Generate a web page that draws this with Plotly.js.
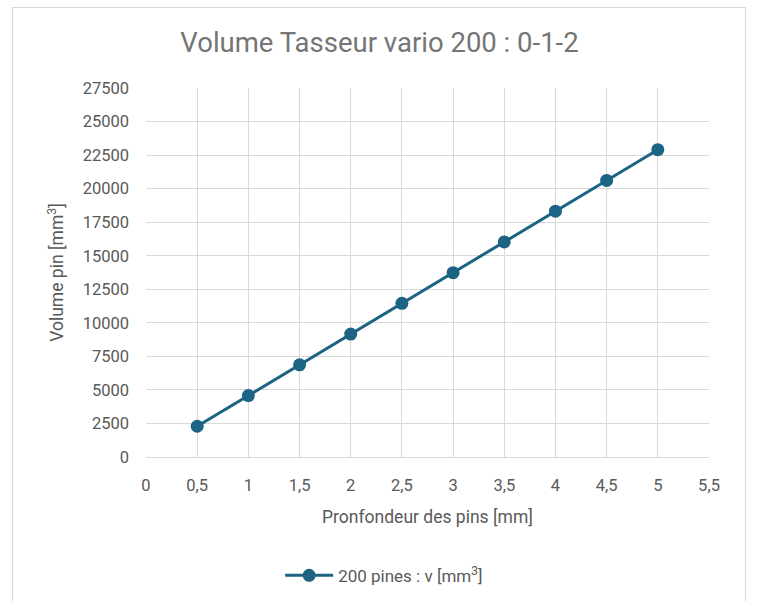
<!DOCTYPE html>
<html><head><meta charset="utf-8">
<script src="https://cdn.plot.ly/plotly-3.0.1.min.js"></script>
<style>
html,body{margin:0;padding:0;background:#fff;}
#wrap{position:relative;width:759px;height:601px;}
#chart{position:absolute;left:0;top:0;width:759px;height:601px;}
#frame{position:absolute;left:12px;top:7px;width:732px;height:600px;border:1px solid #d9d9d9;pointer-events:none;}
</style></head>
<body>
<div id="wrap"><div id="chart"></div><div id="frame"></div></div>
<script>
const depth = [0.5, 1, 1.5, 2, 2.5, 3, 3.5, 4, 4.5, 5];
const volume = [2290, 4580, 6870, 9160, 11450, 13740, 16030, 18320, 20610, 22900];
const seriesName = '200 pines : v [mm<sup>3</sup>]';
const titleText = 'Volume Tasseur vario 200 : 0-1-2';
const xTitle = 'Pronfondeur des pins [mm]';
const yTitle = 'Volume pin [mm<sup>3</sup>]';

const lineColor = '#1c6384';
const textColor = '#595959';
const gridColor = '#d9d9d9';

Plotly.newPlot('chart', [{
  x: depth, y: volume, name: seriesName, type: 'scatter', mode: 'lines+markers',
  line: {color: lineColor, width: 3},
  marker: {color: lineColor, size: 13}
}], {
  width: 759, height: 601,
  margin: {l: 146, r: 50, t: 88, b: 144},
  paper_bgcolor: '#fff', plot_bgcolor: '#fff',
  separators: ',.',
  font: {family: 'Roboto, sans-serif', color: textColor, size: 16},
  title: {text: titleText, x: 0.5, xanchor: 'center', y: 0.93, yanchor: 'middle',
    font: {family: 'Roboto, sans-serif', size: 27.5, color: '#757575'}},
  xaxis: {range: [0, 5.5], dtick: 0.5, tick0: 0, showgrid: true, gridcolor: gridColor, gridwidth: 1,
    zeroline: false, showline: true, linecolor: gridColor, ticks: '', ticklen: 0,
    automargin: false, ticklabelstandoff: 13,
    tickfont: {size: 16.5, color: textColor},
    title: {text: xTitle, font: {size: 17.5, color: textColor}, standoff: 16}},
  yaxis: {range: [0, 27500], dtick: 2500, tick0: 0, tickformat: 'd', showgrid: true, gridcolor: gridColor, gridwidth: 1,
    zeroline: false, showline: false, ticks: '', ticklen: 0,
    automargin: false, ticklabelstandoff: 16,
    tickfont: {size: 16.5, color: textColor},
    title: {text: yTitle, font: {size: 17.5, color: textColor}, standoff: 14}},
  showlegend: true,
  legend: {orientation: 'h', xref: 'paper', yref: 'container', x: 0.423, xanchor: 'center', y: 0.042, yanchor: 'middle',
    itemwidth: 48,
    font: {size: 17, color: textColor}}
}, {displayModeBar: false, staticPlot: true});
</script>
</body></html>
